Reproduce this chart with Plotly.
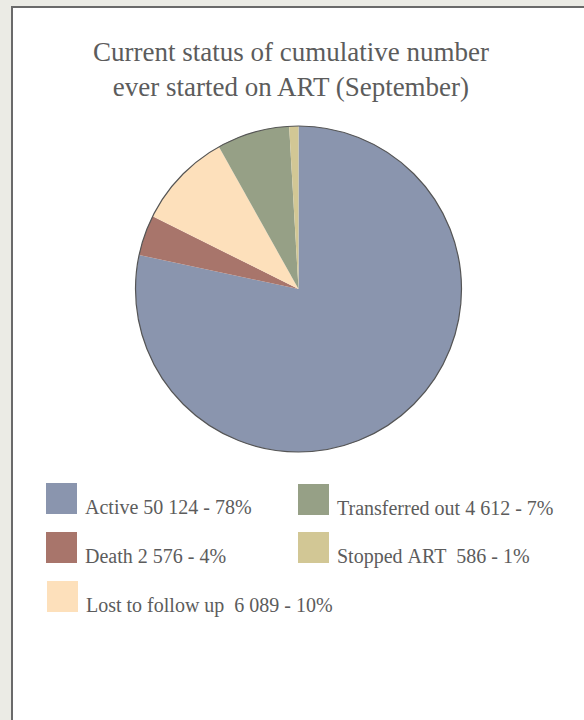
import plotly.graph_objects as go

labels = ["Active", "Death", "Lost to follow up ", "Transferred out", "Stopped ART "]
values = [50124, 2576, 6089, 4612, 586]
colors = ["#8a95ae", "#a8756b", "#fde0bb", "#96a086", "#d2c795"]

W, H = 584, 720
total = sum(values)

def fmt(n):
    return "{:,}".format(n).replace(",", " ")

fig = go.Figure()
cx, cy, r = 298.5, 289, 163
fig.add_trace(go.Pie(
    labels=labels, values=values, sort=False, direction="clockwise", rotation=0,
    marker=dict(colors=colors, line=dict(width=0)),
    textinfo="none", hoverinfo="label+value+percent", showlegend=False,
    domain=dict(x=[(cx - r) / W, (cx + r) / W], y=[(H - cy - r) / H, (H - cy + r) / H]),
))

shapes = [
    dict(type="rect", xref="paper", yref="paper", x0=12 / W, x1=1.2, y0=-0.2, y1=(H - 7) / H,
         fillcolor="white", line=dict(color="#6a6a6a", width=2), layer="below"),
    dict(type="circle", xref="paper", yref="paper",
         x0=(cx - r) / W, x1=(cx + r) / W, y0=(H - cy - r) / H, y1=(H - cy + r) / H,
         line=dict(color="#555555", width=1.2), fillcolor="rgba(0,0,0,0)"),
]
annotations = [
    dict(text="Current status of cumulative number<br>ever started on ART (September)",
         x=291 / W, y=(H - 69) / H, xref="paper", yref="paper", showarrow=False,
         font=dict(family="Liberation Serif", size=27, color="#5c5c5c"),
         xanchor="center", yanchor="middle"),
]

# legend layout: (swatch left, swatch top) for each entry
pos = [(46, 483), (46, 532), (47, 581), (298, 484), (298, 532)]
sw = 31
for lab, v, c, (px, py) in zip(labels, values, colors, pos):
    pct = round(100 * v / total)
    shapes.append(dict(type="rect", xref="paper", yref="paper",
                       x0=px / W, x1=(px + sw) / W, y0=(H - py - sw) / H, y1=(H - py) / H,
                       fillcolor=c, line=dict(width=0)))
    txt = (lab.replace(" ", "&nbsp;") if lab.endswith(" ") else lab) + " " + fmt(v) + " - " + str(pct) + "%"
    annotations.append(dict(text=txt, x=(px + sw + 6) / W, y=(H - py - 24) / H,
                            xref="paper", yref="paper", showarrow=False,
                            xanchor="left", yanchor="middle",
                            font=dict(family="Liberation Serif", size=20, color="#5c5c5c")))

fig.update_layout(
    width=W, height=H, margin=dict(l=0, r=0, t=0, b=0),
    paper_bgcolor="#ebebe5", plot_bgcolor="white",
    shapes=shapes, annotations=annotations,
)
fig.write_html("out.html", config={"displayModeBar": False},
               post_script="document.body.style.margin='0';")
